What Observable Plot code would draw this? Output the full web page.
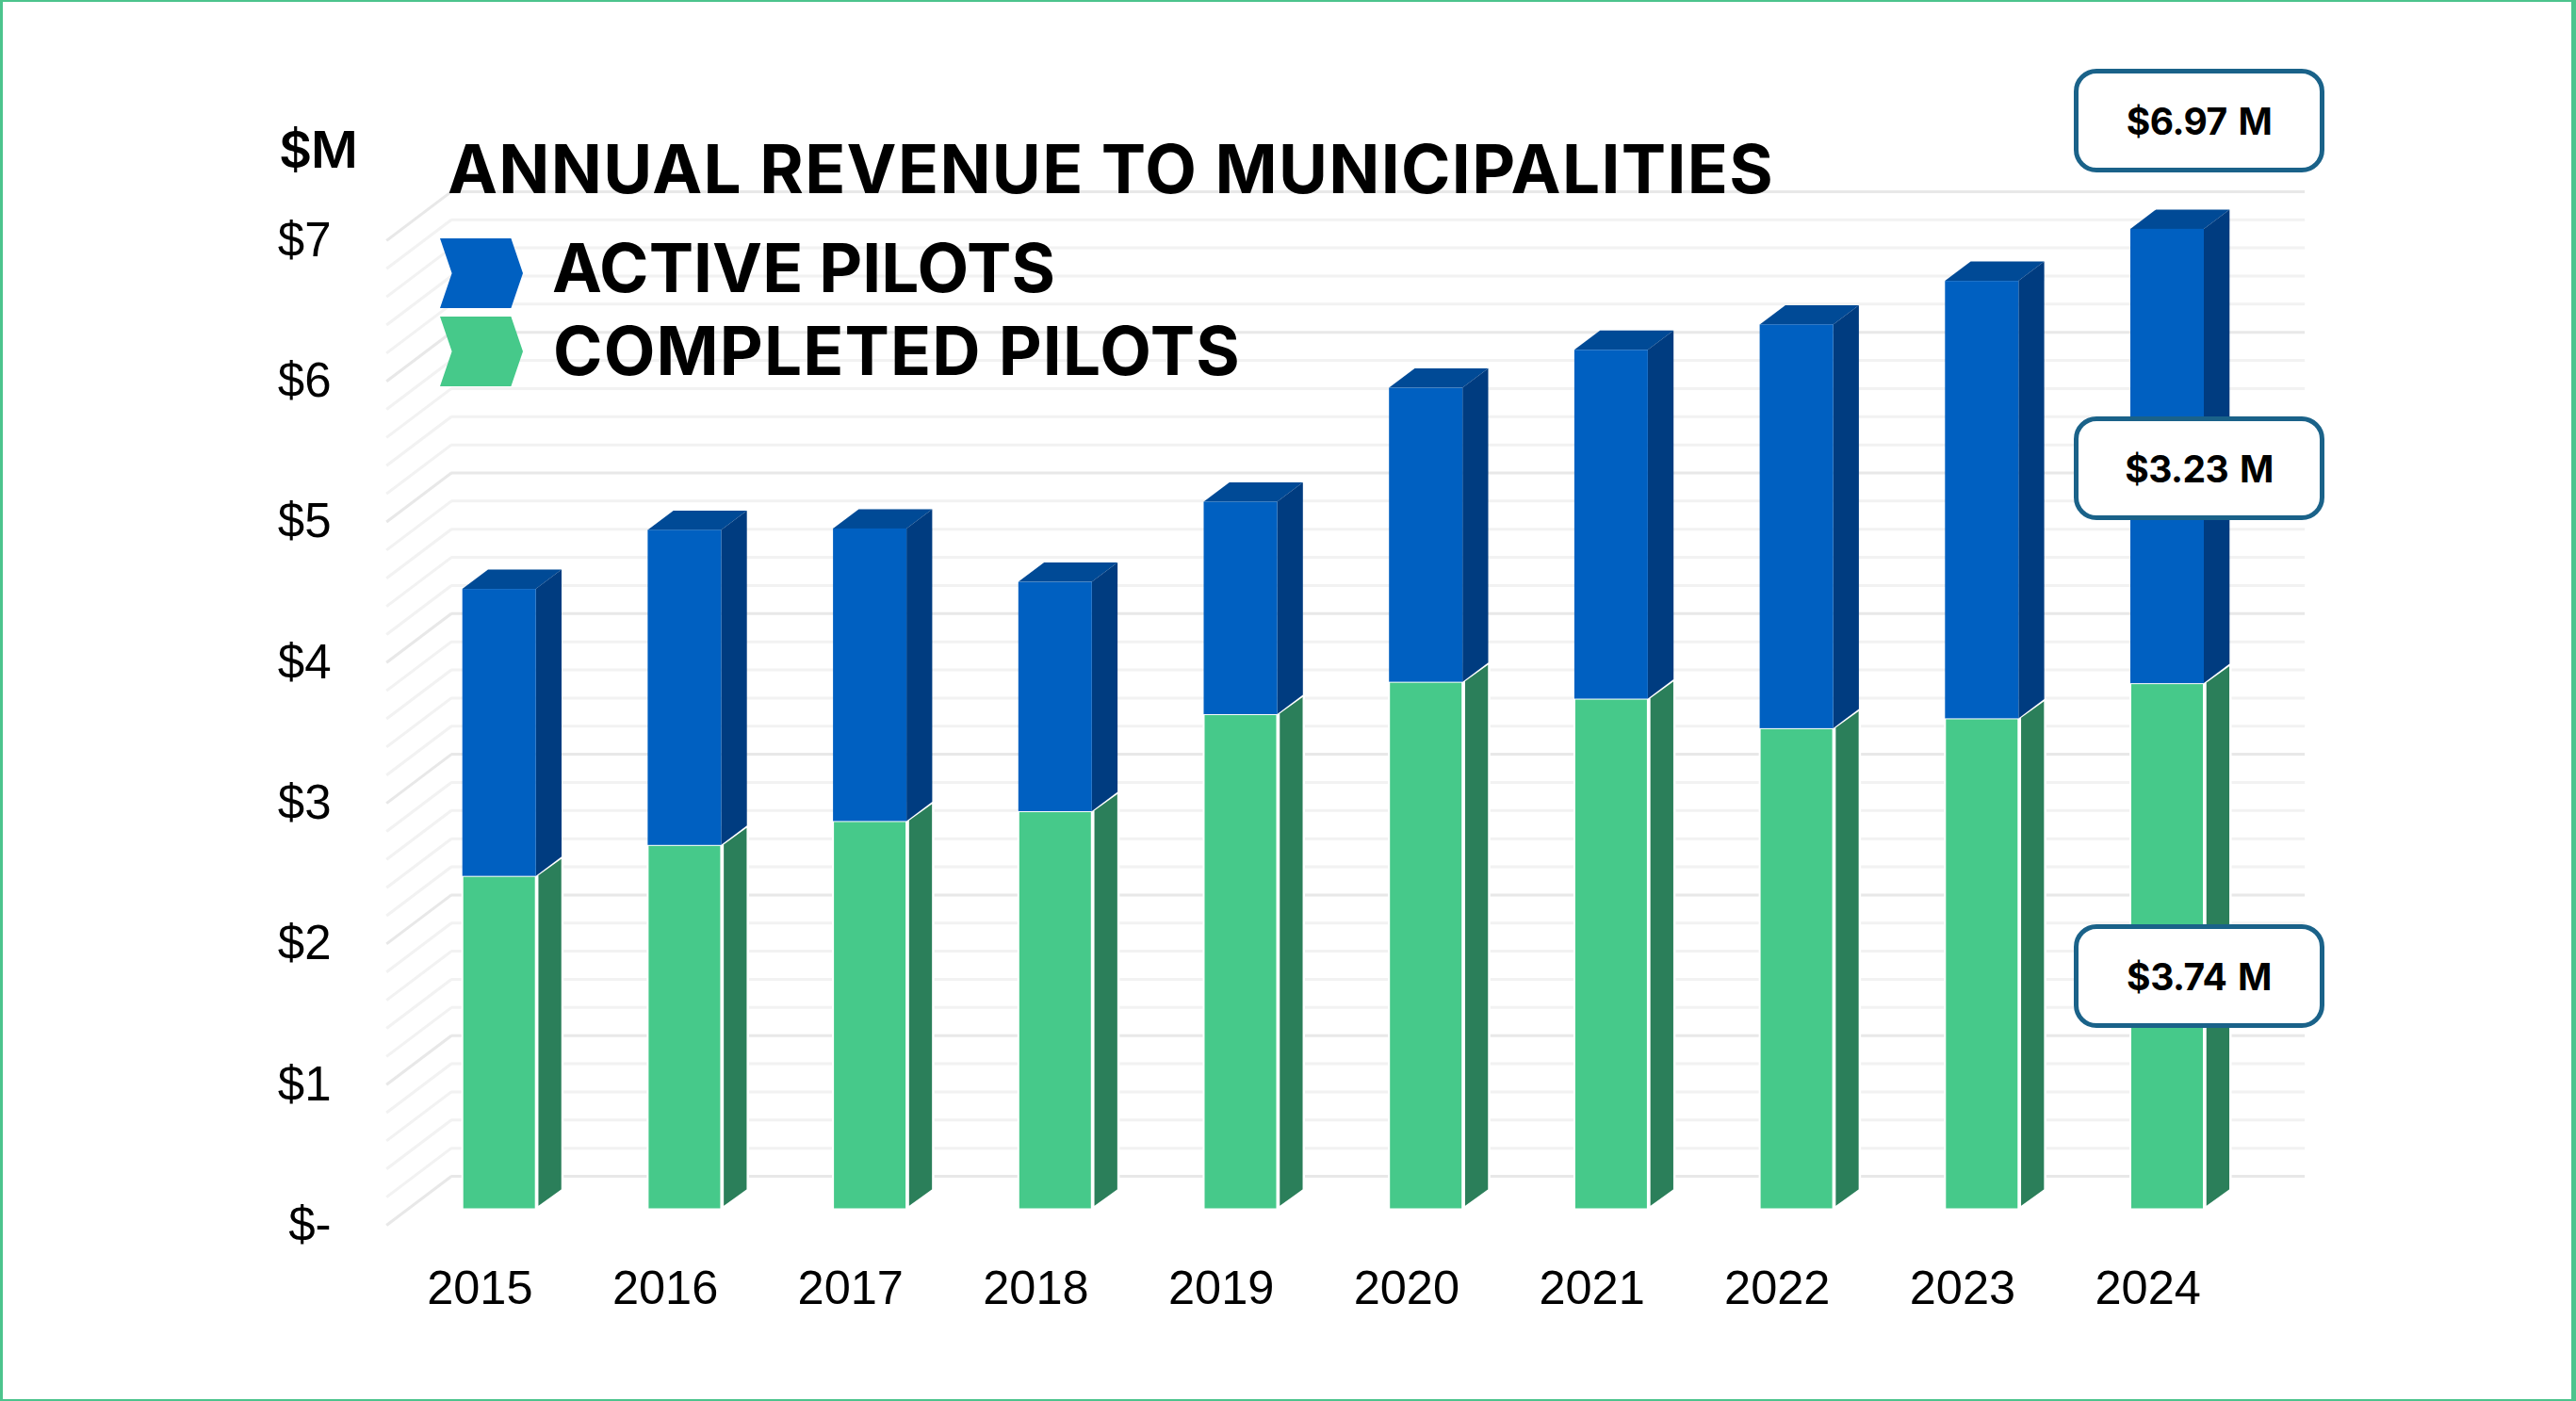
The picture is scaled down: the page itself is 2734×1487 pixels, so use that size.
<!DOCTYPE html>
<html><head><meta charset="utf-8">
<script src="https://cdn.jsdelivr.net/npm/d3@7"></script>
<script src="https://cdn.jsdelivr.net/npm/@observablehq/plot@0.6"></script>
<style>
html,body{margin:0;padding:0;background:#fff;}
#page{position:relative;width:2734px;height:1487px;overflow:hidden;background:#fff;}
#frame{position:absolute;inset:0;box-sizing:border-box;border:solid #4cc48d;border-width:2px 5px 2px 3px;pointer-events:none;}
#chart{position:absolute;left:0;top:0;}
.t{position:absolute;white-space:nowrap;font-family:"Inter";font-weight:700;color:#000;line-height:1;}
.chev{position:absolute;clip-path:polygon(0 0,85.7% 0,100% 50%,85.7% 100%,0 100%,14.3% 50%);}
.call{position:absolute;box-sizing:border-box;left:2201px;width:266px;height:110px;background:#fff;border:5px solid #1a6289;border-radius:24px;
 display:flex;align-items:center;justify-content:center;font-family:"Inter";font-weight:700;font-size:39px;letter-spacing:-0.5px;word-spacing:3px;color:#000;}
</style></head><body>
<div id="page"><div id="chart"></div><div id="frame"></div></div>
<script>
const years=[2015,2016,2017,2018,2019,2020,2021,2022,2023,2024];
const completed=[2.37,2.59,2.76,2.83,3.52,3.75,3.63,3.42,3.49,3.74];
const total=[4.41,4.83,4.84,4.46,5.03,5.84,6.11,6.29,6.60,6.97];
const yTickValues=[0,1,2,3,4,5,6,7];
const yTickLabels=["$-","$1","$2","$3","$4","$5","$6","$7"];
const gridStep=0.2, gridCount=36;
const colors={front:"#0060c1",side:"#003c80",top:"#004a96",gfront:"#46c98a",gside:"#2b7f5a"};

// Scale setup: x unit = one year slot, y unit = one $M
const W=2734,H=1487,pxX=196.7,pxY=149.3,x2015=529.7,y0=1283.5;
const xDomain=[2015-x2015/pxX,2015+(W-x2015)/pxX];
const yDomain=[(y0-H)/pxY,y0/pxY];
const hw=39/pxX, depthX=27.3/pxX, depthY=20.5/pxY, gap=1.5/pxX, over=1/pxX;
const backY=35.5/pxY, frontY=-16.5/pxY, gridL=2014.39, gridB=2014.74, gridR=2024.743;

const grid=d3.range(gridCount).map(i=>({v:i*gridStep,major:i%5===0}));
const rows=years.map((year,i)=>({year,c:completed[i],t:total[i]}));
const gridStyle={strokeWidth:3};

const sides=(a,b,fill,g,e,opt={})=>rows.map(r=>{
  const xa=r.year+hw+g, xb=r.year+hw+depthX+e, lo=a(r), hi=b(r), s=g?depthY*(g/depthX):0;
  return Plot.areaY([{x:xa,y1:lo+s,y2:hi+s},{x:xb,y1:lo+depthY,y2:hi+depthY}],
    {x:"x",y1:"y1",y2:"y2",fill,...opt});
});

const chart=Plot.plot({
  width:W,height:H,margin:0,
  x:{type:"linear",domain:xDomain,range:[0,W],axis:null},
  y:{type:"linear",domain:yDomain,range:[H,0],axis:null},
  style:{background:"transparent",overflow:"visible"},
  marks:[
    Plot.link(grid.filter(d=>!d.major),{x1:d=>gridL,x2:d=>gridB,y1:d=>d.v+frontY,y2:d=>d.v+backY,stroke:"#f2f2f2",...gridStyle}),
    Plot.link(grid.filter(d=>d.major),{x1:d=>gridL,x2:d=>gridB,y1:d=>d.v+frontY,y2:d=>d.v+backY,stroke:"#e8e8e8",...gridStyle}),
    Plot.ruleY(grid.filter(d=>!d.major),{y:d=>d.v+backY,x1:d=>gridB,x2:d=>gridR,stroke:"#f2f2f2",...gridStyle}),
    Plot.ruleY(grid.filter(d=>d.major),{y:d=>d.v+backY,x1:d=>gridB,x2:d=>gridR,stroke:"#e8e8e8",...gridStyle}),
    // green side + front
    ...sides(r=>0,r=>r.c,colors.gside,gap,over,{stroke:"#fff",strokeWidth:2.5}),
    Plot.rect(rows,{x1:d=>d.year-hw,x2:d=>d.year+hw,y1:d=>0,y2:d=>d.c,fill:colors.gfront,stroke:"#fff",strokeWidth:2}),
    // blue top, side, front
    ...rows.map(r=>Plot.areaX([{y:r.t,x1:r.year-hw,x2:r.year+hw},{y:r.t+depthY,x1:r.year-hw+depthX,x2:r.year+hw+depthX}],
      {y:"y",x1:"x1",x2:"x2",fill:colors.top})),
    ...sides(r=>r.c,r=>r.t,colors.side,0,0),
    Plot.rect(rows,{x1:d=>d.year-hw,x2:d=>d.year+hw,y1:d=>d.c,y2:d=>d.t,fill:colors.front}),
    // axis labels
    Plot.text(yTickValues,{x:d=>2014.092,y:d=>d+frontY,text:(d,i)=>yTickLabels[i],textAnchor:"end",fontFamily:"Liberation Sans",fontSize:51,fill:"#000"}),
    Plot.text(years,{x:d=>d-0.106,y:d=>-0.562,text:d=>String(d),fontFamily:"Liberation Sans",fontSize:50.5,fill:"#000"})
  ]
});
document.getElementById("chart").appendChild(chart);

// Title, legend and call-outs sit over the figure
const page=document.getElementById("page");
function addText(s,left,top,size,extra=""){const e=document.createElement("div");e.className="t";e.textContent=s;
  e.style.cssText=`left:${left}px;top:${top}px;font-size:${size}px;${extra}`;page.appendChild(e);return e;}
function fit(e,w){const r=e.getBoundingClientRect().width;e.style.letterSpacing=((w-r)/e.textContent.length)+"px";}
fit(addText("ANNUAL REVENUE TO MUNICIPALITIES",475,144,71),1408);
fit(addText("ACTIVE PILOTS",586,249,71),534);
fit(addText("COMPLETED PILOTS",587,337,71),730);
addText("$M",296,132,54,"font-weight:600;letter-spacing:-1px;");
[["#0060c1",253],["#46c98a",336]].forEach(([c,t])=>{const e=document.createElement("div");e.className="chev";
  e.style.cssText=`left:467px;top:${t}px;width:88px;height:74px;background:${c};`;page.appendChild(e);});
const last=rows[rows.length-1];
[[last.t,73],[last.t-last.c,442],[last.c,981]].forEach(([v,top])=>{const e=document.createElement("div");e.className="call";
  e.style.top=top+"px";e.textContent="$"+v.toFixed(2)+" M";page.appendChild(e);});
</script></body></html>
